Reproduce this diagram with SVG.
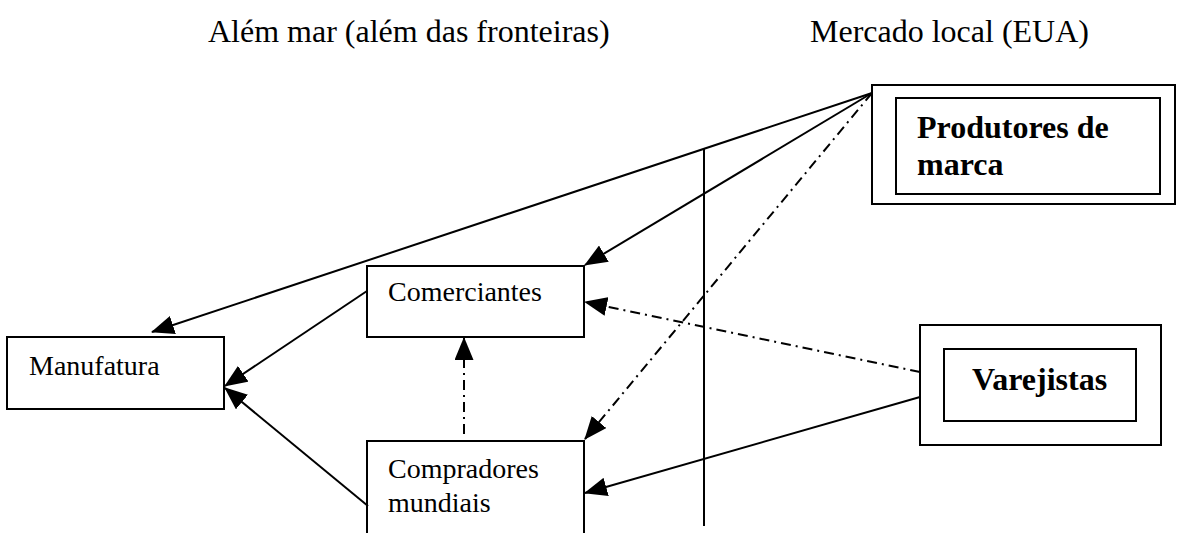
<svg xmlns="http://www.w3.org/2000/svg" width="1177" height="533" viewBox="0 0 1177 533">
<style>
.box{fill:#fff;stroke:#000;stroke-width:2}
.t{font-family:"Liberation Serif","Times New Roman",serif;font-size:28px;fill:#000}
.h{font-family:"Liberation Serif","Times New Roman",serif;font-size:32px;fill:#000}
.b{font-family:"Liberation Serif","Times New Roman",serif;font-size:32px;font-weight:bold;fill:#000}
.c{stroke:#000;stroke-width:2;fill:none}
.a{marker-end:url(#arr)}
.dd{stroke-dasharray:10 5 2 5}
</style>
<defs>
<marker id="arr" markerUnits="userSpaceOnUse" markerWidth="23" markerHeight="19" refX="22" refY="9.5" orient="auto">
<path d="M0,0 L23,9.5 L0,19 Z" fill="#000"/>
</marker>
</defs>
<text class="h" x="208" y="42">Além mar (além das fronteiras)</text>
<text class="h" x="810" y="42">Mercado local (EUA)</text>
<g id="nodes">
<g id="manufatura"><rect class="box" x="7" y="337" width="217" height="72"/><text class="t" x="29" y="375">Manufatura</text></g>
<g id="comerciantes"><rect class="box" x="367" y="266" width="217" height="71"/><text class="t" x="388" y="301">Comerciantes</text></g>
<g id="compradores"><rect class="box" x="367" y="441" width="217" height="100"/><text class="t" x="388" y="478">Compradores</text><text class="t" x="388" y="512">mundiais</text></g>
<g id="produtores"><rect class="box" x="872" y="85" width="303" height="119"/><rect class="box" x="896" y="98" width="264" height="96"/><text class="b" x="917" y="138">Produtores de</text><text class="b" x="917" y="175">marca</text></g>
<g id="varejistas"><rect class="box" x="920" y="325" width="241" height="120"/><rect class="box" x="944" y="349" width="192" height="72"/><text class="b" x="972" y="390">Varejistas</text></g>
</g>
<g id="connectors">
<line class="c" x1="704" y1="148" x2="704" y2="526"/>
<line class="c a" x1="872" y1="93" x2="152" y2="332"/>
<line class="c a" x1="872" y1="93" x2="585" y2="265"/>
<line class="c a dd" x1="872" y1="93" x2="585" y2="439"/>
<line class="c a" x1="367" y1="291" x2="225" y2="386"/>
<line class="c a" x1="368" y1="506" x2="225" y2="388"/>
<line class="c a dd" x1="920" y1="372" x2="585" y2="302"/>
<line class="c a" x1="920" y1="397" x2="585" y2="493"/>
<line class="c a dd" x1="464" y1="434" x2="464" y2="338"/>
</g>
</svg>
